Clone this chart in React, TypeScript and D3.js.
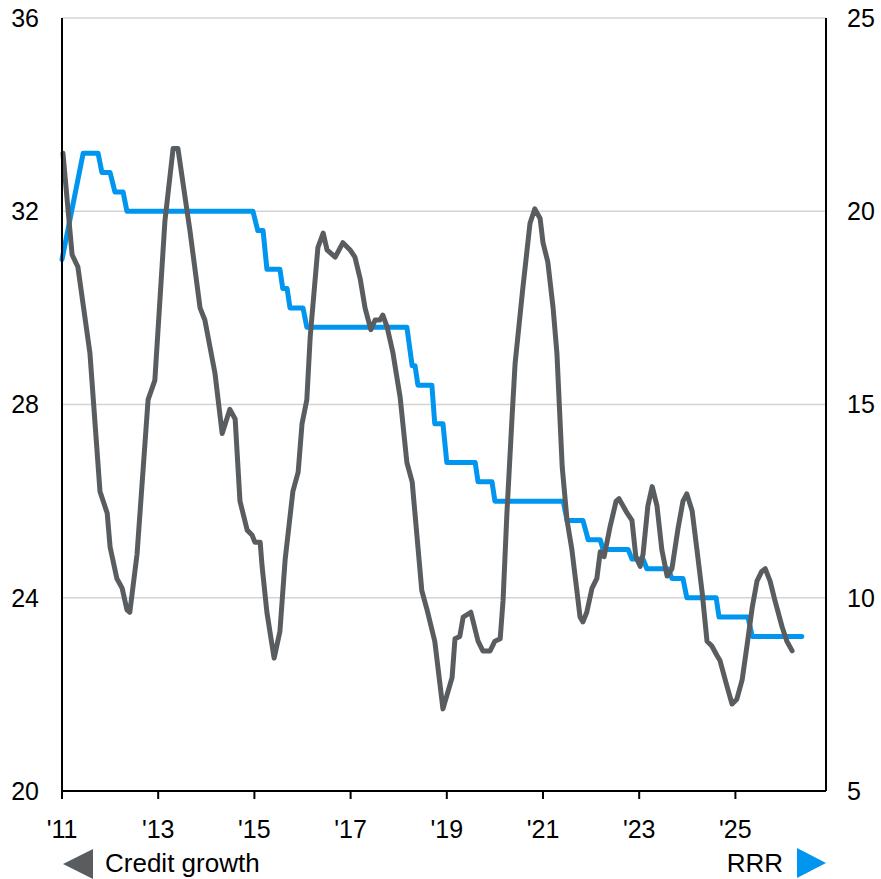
import React from "react";
import * as d3 from "d3";

// Credit growth (left axis, %), decimal year
const creditDates = [
  2011.02, 2011.21, 2011.33, 2011.58, 2011.79, 2011.94, 2012.0, 2012.14, 2012.25, 2012.35, 2012.41,
  2012.56, 2012.79, 2012.93, 2013.14, 2013.31, 2013.41, 2013.66, 2013.87, 2013.97, 2014.18, 2014.33,
  2014.49, 2014.6, 2014.7, 2014.85, 2014.95, 2015.01, 2015.12, 2015.16, 2015.26, 2015.37, 2015.41,
  2015.53, 2015.64, 2015.8, 2015.91, 2015.99, 2016.09, 2016.16, 2016.32, 2016.43, 2016.51, 2016.68,
  2016.84, 2016.99, 2017.09, 2017.2, 2017.3, 2017.42, 2017.51, 2017.61, 2017.67, 2017.76, 2017.88,
  2018.03, 2018.17, 2018.28, 2018.48, 2018.59, 2018.75, 2018.92, 2019.11, 2019.17, 2019.27, 2019.34,
  2019.5, 2019.65, 2019.75, 2019.9, 2020.0, 2020.11, 2020.17, 2020.25, 2020.36, 2020.42, 2020.58,
  2020.73, 2020.83, 2020.94, 2021.0, 2021.1, 2021.21, 2021.29, 2021.4, 2021.5, 2021.6, 2021.71,
  2021.77, 2021.83, 2021.91, 2022.02, 2022.12, 2022.19, 2022.27, 2022.39, 2022.52, 2022.58, 2022.75,
  2022.85, 2022.93, 2023.02, 2023.08, 2023.18, 2023.27, 2023.37, 2023.47, 2023.58, 2023.68, 2023.81,
  2023.91, 2023.99, 2024.1, 2024.2, 2024.31, 2024.41, 2024.51, 2024.62, 2024.68, 2024.83, 2024.93,
  2025.03, 2025.14, 2025.24, 2025.35, 2025.45, 2025.55, 2025.62, 2025.72, 2025.82, 2025.97, 2026.07,
  2026.18,
];
const creditValues = [
  33.2, 31.1, 30.85, 29.07, 26.2, 25.75, 25.05, 24.4, 24.2, 23.75, 23.7,
  24.9, 28.1, 28.5, 31.8, 33.3, 33.3, 31.6, 30.0, 29.75, 28.65, 27.4,
  27.9, 27.7, 26.0, 25.4, 25.3, 25.15, 25.15, 24.65, 23.7, 23.0, 22.75,
  23.3, 24.8, 26.2, 26.6, 27.6, 28.1, 29.4, 31.25, 31.55, 31.2, 31.05,
  31.35, 31.2, 31.05, 30.6, 30.0, 29.55, 29.75, 29.75, 29.85, 29.6, 29.07,
  28.15, 26.8, 26.4, 24.15, 23.75, 23.1, 21.7, 22.35, 23.15, 23.2, 23.6,
  23.7, 23.1, 22.9, 22.9, 23.1, 23.15, 23.95, 25.75, 27.8, 28.85, 30.4,
  31.75, 32.05, 31.85, 31.35, 30.95, 30.0, 29.05, 26.7, 25.6, 25.0, 24.1,
  23.6, 23.5, 23.7, 24.2, 24.4, 24.95, 24.85, 25.45, 26.0, 26.05, 25.75,
  25.6, 24.85, 24.65, 24.9, 25.9, 26.3, 25.9, 25.0, 24.45, 24.6, 25.45,
  26.0, 26.15, 25.8, 25.0, 24.1, 23.1, 23.0, 22.8, 22.7, 22.15, 21.8,
  21.9, 22.3, 23.0, 23.8, 24.35, 24.55, 24.6, 24.35, 23.95, 23.4, 23.1,
  22.9,
];

// Reserve requirement ratio (right axis, %), vertices of the stepped line
const rrrDates = [
  2011.0, 2011.44, 2011.75, 2011.83, 2012.0, 2012.1, 2012.27, 2012.35, 2014.97, 2015.07, 2015.18,
  2015.26, 2015.53, 2015.59, 2015.68, 2015.74, 2016.01, 2016.09, 2018.17, 2018.28, 2018.34, 2018.4,
  2018.69, 2018.75, 2018.92, 2019.0, 2019.59, 2019.65, 2019.94, 2020.0, 2021.42, 2021.5, 2021.83,
  2021.94, 2022.19, 2022.25, 2022.77, 2022.85, 2023.08, 2023.16, 2023.6, 2023.68, 2023.91, 2023.99,
  2024.6, 2024.66, 2025.26, 2025.35, 2026.38,
];
const rrrValues = [
  18.75, 21.5, 21.5, 21.0, 21.0, 20.5, 20.5, 20.0, 20.0, 19.5, 19.5,
  18.5, 18.5, 18.0, 18.0, 17.5, 17.5, 17.0, 17.0, 16.0, 16.0, 15.5,
  15.5, 14.5, 14.5, 13.5, 13.5, 13.0, 13.0, 12.5, 12.5, 12.0, 12.0,
  11.5, 11.5, 11.25, 11.25, 11.0, 11.0, 10.75, 10.75, 10.5, 10.5, 10.0,
  10.0, 9.5, 9.5, 9.0, 9.0,
];

const xTicks = [2011, 2013, 2015, 2017, 2019, 2021, 2023, 2025];
const xTickLabels = ["'11", "'13", "'15", "'17", "'19", "'21", "'23", "'25"];
const leftTicks = [20, 24, 28, 32, 36];
const rightTicks = [5, 10, 15, 20, 25];
const gridValues = [24, 28, 32, 36];

const GRAY = "#5a5d60";
const BLUE = "#0096f0";
const FONT = "'Liberation Sans', Arial, sans-serif";

export default function App() {
  const W = 881;
  const H = 879;
  const left = 62;
  const right = 826;
  const top = 18;
  const bottom = 791;

  const x = d3.scaleLinear().domain([2011, 2011 + 764 / 48.1]).range([left, right]);
  const yL = d3.scaleLinear().domain([20, 36]).range([bottom, top]);
  const yR = d3.scaleLinear().domain([5, 25]).range([bottom, top]);

  const credit = creditDates.map((d, i) => [d, creditValues[i]] as [number, number]);
  const rrr = rrrDates.map((d, i) => [d, rrrValues[i]] as [number, number]);

  const creditLine = d3
    .line<[number, number]>()
    .x((d) => x(d[0]))
    .y((d) => yL(d[1]))(credit);
  const rrrLine = d3
    .line<[number, number]>()
    .x((d) => x(d[0]))
    .y((d) => yR(d[1]))(rrr);

  const fs = 25;
  const lfs = 26;

  return (
    <div style={{ position: "absolute", left: 0, top: 0 }}>
      <svg width={W} height={H} style={{ display: "block", background: "#fff" }}>
        {gridValues.map((v) => (
          <line key={v} x1={left} x2={right} y1={yL(v)} y2={yL(v)} stroke="#d4d4d4" strokeWidth={1.3} />
        ))}
        <path d={rrrLine || ""} fill="none" stroke={BLUE} strokeWidth={5} strokeLinejoin="round" strokeLinecap="round" />
        <path d={creditLine || ""} fill="none" stroke={GRAY} strokeWidth={5} strokeLinejoin="round" strokeLinecap="round" />
        {/* axes */}
        <line x1={left} x2={left} y1={top} y2={bottom} stroke="#000" strokeWidth={2} />
        <line x1={right} x2={right} y1={top} y2={bottom} stroke="#000" strokeWidth={2} />
        <line x1={left} x2={right} y1={bottom} y2={bottom} stroke="#000" strokeWidth={2} />
        {xTicks.map((t, i) => (
          <g key={t}>
            <line x1={x(t)} x2={x(t)} y1={bottom} y2={bottom + 8} stroke="#000" strokeWidth={2} />
            <text x={x(t)} y={bottom + 47} textAnchor="middle" fontFamily={FONT} fontSize={fs} fill="#000">
              {xTickLabels[i]}
            </text>
          </g>
        ))}
        {leftTicks.map((v) => (
          <text key={v} x={39} y={yL(v)} dy="0.35em" textAnchor="end" fontFamily={FONT} fontSize={fs} fill="#000">
            {v}
          </text>
        ))}
        {rightTicks.map((v) => (
          <text key={v} x={847} y={yR(v)} dy="0.35em" textAnchor="start" fontFamily={FONT} fontSize={fs} fill="#000">
            {v}
          </text>
        ))}
        {/* legend */}
        <path d={`M63,864 L93,849 L93,879 Z`} fill={GRAY} />
        <text x={105} y={872} fontFamily={FONT} fontSize={lfs} fill="#000">
          Credit growth
        </text>
        <text x={783} y={872} textAnchor="end" fontFamily={FONT} fontSize={lfs} fill="#000">
          RRR
        </text>
        <path d={`M797,848 L826,863 L797,878 Z`} fill={BLUE} />
      </svg>
    </div>
  );
}
